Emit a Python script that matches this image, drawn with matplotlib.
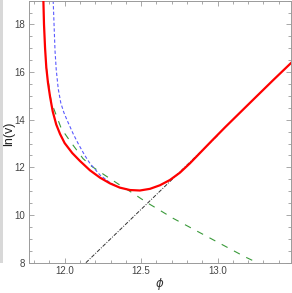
import matplotlib
matplotlib.use("Agg")
import matplotlib.pyplot as plt
from matplotlib.patches import Rectangle
from matplotlib.ticker import MultipleLocator

# red curve: ln(v) against phi
red_phi = [11.861, 11.865, 11.872, 11.880, 11.891, 11.905, 11.922, 11.945, 11.970,
           12.000, 12.050, 12.100, 12.165, 12.231, 12.296, 12.361, 12.427, 12.492,
           12.558, 12.623, 12.688, 12.754, 12.819, 12.884, 12.961, 13.050, 13.150,
           13.250, 13.363, 13.480]
red_lnv = [19.0, 18.0, 17.0, 16.2, 15.55, 14.95, 14.35, 13.8, 13.4,
           13.02, 12.6, 12.27, 11.88, 11.57, 11.33, 11.15, 11.05, 11.03,
           11.1, 11.25, 11.47, 11.78, 12.17, 12.6, 13.11, 13.69, 14.32,
           14.95, 15.66, 16.38]

# blue dashed branch
blue_phi = [11.925, 11.937, 11.945, 11.958, 11.975, 11.995, 12.018, 12.055, 12.090,
            12.130, 12.165, 12.231, 12.296, 12.340]
blue_lnv = [19.0, 16.9, 16.1, 15.3, 14.7, 14.3, 13.95, 13.42, 12.98,
            12.52, 12.17, 11.68, 11.36, 11.2]

# green dashed branch
green_phi = [11.880, 11.912, 11.945, 11.978, 12.039, 12.120, 12.176, 12.263, 12.361,
             12.448, 12.536, 12.612, 12.710, 13.178, 13.259]
green_lnv = [16.2, 14.75, 14.19, 13.63, 13.07, 12.37, 12.05, 11.67, 11.26,
             10.91, 10.53, 10.24, 9.86, 8.25, 8.0]

# black dash-dot branch
black_phi = [12.139, 13.0]
black_lnv = [8.0, 13.34]

fig = plt.figure(figsize=(2.92, 2.93), dpi=100)
ax = fig.add_axes([0.0983, 0.1034, 0.8983, 0.8946])

# thin grey strip on the left border
fig.patches.append(Rectangle((0, 0.1034), 3 / 292, 0.8966, transform=fig.transFigure,
                             facecolor="#d8d8d8", edgecolor="none"))

ax.plot(black_phi, black_lnv, color="#333333", lw=0.7, ls=(0, (4, 1.5, 1, 1.5)), zorder=2)
ax.plot(green_phi, green_lnv, color="#3a9a3a", lw=0.8, ls=(0, (6, 6.5)), zorder=2)
ax.plot(blue_phi, blue_lnv, color="#5a5aff", lw=0.8, ls=(0, (3, 2)), zorder=2)
ax.plot(red_phi, red_lnv, color="#ff0000", lw=1.6, zorder=3)

ax.set_xlim(11.765, 13.48)
ax.set_ylim(8, 19)

ax.xaxis.set_major_locator(MultipleLocator(0.5))
ax.xaxis.set_minor_locator(MultipleLocator(0.1))
ax.yaxis.set_major_locator(MultipleLocator(2))
ax.yaxis.set_minor_locator(MultipleLocator(0.5))
ax.xaxis.set_major_formatter(plt.FuncFormatter(lambda v, p: "%.1f" % v))
ax.yaxis.set_major_formatter(plt.FuncFormatter(lambda v, p: "%d" % v))

for s in ax.spines.values():
    s.set_color("#9a9a9a")
    s.set_linewidth(0.7)
ax.tick_params(which="both", direction="in", top=True, right=True,
               color="#9a9a9a", width=0.6, labelsize=7, labelcolor="#444444", pad=2.5)
ax.tick_params(which="major", length=3.5)
ax.tick_params(which="minor", length=2)
for lab in ax.get_xticklabels() + ax.get_yticklabels():
    lab.set_family("Liberation Sans")

ax.set_xlabel(r"$\phi$", fontsize=8.5, color="#333333")
ax.set_ylabel("ln(v)", fontsize=9, color="#222222", family="Liberation Sans")
ax.xaxis.set_label_coords(0.5, -0.05)
ax.yaxis.set_label_coords(-0.05, 0.49)

fig.savefig("out.png", dpi=100)
